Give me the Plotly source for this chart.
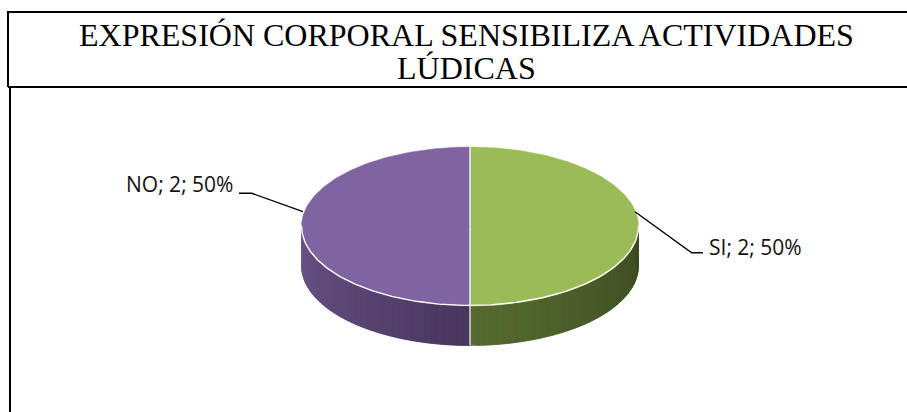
import numpy as np
import plotly.graph_objects as go

# ---- data ----
labels = ["SI", "NO"]
values = [2, 2]
title_lines = ["EXPRESIÓN CORPORAL SENSIBILIZA ACTIVIDADES", "LÚDICAS"]

# ---- style ----
top_colors = ["#9BBB59", "#8064A2"]
side_start = ["#566B2F", "#6C5589"]   # colour at left end of the visible wall
side_end = ["#3C4A22", "#49365F"]     # colour at right end of the visible wall

W, H = 907, 412
CX, CY, RX, RY, DEPTH = 470, 226.5, 168.5, 79.5, 39.5


def hex2rgb(h):
    h = h.lstrip("#")
    return np.array([int(h[i:i + 2], 16) for i in (0, 2, 4)], float)


def mix(c1, c2, t):
    c = hex2rgb(c1) * (1 - t) + hex2rgb(c2) * t
    return "rgb(%d,%d,%d)" % tuple(np.round(c).astype(int))


def ex(th):
    return CX + RX * np.cos(np.radians(th))


def ey(th, dz=0.0):
    return CY - RY * np.sin(np.radians(th)) + dz


fig = go.Figure()

total = float(sum(values))
a0 = 90.0
slices = []
for i, v in enumerate(values):
    a1 = a0 - 360.0 * v / total
    slices.append((a1, a0))
    a0 = a1

# side walls (front half only: angles in [-180, 0] modulo 360)
for i, (lo, hi) in enumerate(slices):
    for k in (-1, 0, 1):
        vlo = max(lo, -180 + 360 * k)
        vhi = min(hi, 0 + 360 * k)
        if vhi <= vlo:
            continue
        n = 40
        ts = np.linspace(vlo, vhi, n + 1)
        for j in range(n):
            t1, t2 = ts[j], ts[min(j + 2, n)]
            seg = np.linspace(t1, t2, 5)
            xs = list(ex(seg)) + list(ex(seg[::-1]))
            ys = list(ey(seg)) + list(ey(seg[::-1], DEPTH))
            frac = j / (n - 1)
            col = mix(side_start[i], side_end[i], frac)
            fig.add_trace(go.Scatter(x=xs + [xs[0]], y=ys + [ys[0]], mode="lines",
                                     fill="toself", fillcolor=col,
                                     line=dict(color=col, width=0.5),
                                     hoverinfo="skip", showlegend=False))

# top faces
for i, (lo, hi) in enumerate(slices):
    th = np.linspace(hi, lo, 200)
    xs = [CX] + list(ex(th)) + [CX]
    ys = [CY] + list(ey(th)) + [CY]
    fig.add_trace(go.Scatter(x=xs, y=ys, mode="lines", fill="toself",
                             fillcolor=top_colors[i],
                             line=dict(color=top_colors[i], width=0.5),
                             hoverinfo="skip", showlegend=False))

# white rim on front edge of top face
th = np.linspace(-180, 0, 200)
fig.add_trace(go.Scatter(x=ex(th), y=ey(th) - 0.6, mode="lines",
                         line=dict(color="white", width=1.4),
                         hoverinfo="skip", showlegend=False))

# white separators between slices
for lo, hi in slices:
    b = hi
    fig.add_trace(go.Scatter(x=[CX, ex(b)], y=[CY, ey(b)], mode="lines",
                             line=dict(color="white", width=1.4),
                             hoverinfo="skip", showlegend=False))
    bm = ((b + 180) % 360) - 180
    if -180 < bm < 0:
        fig.add_trace(go.Scatter(x=[ex(bm), ex(bm)], y=[ey(bm), ey(bm, DEPTH)],
                                 mode="lines", line=dict(color="white", width=1.2),
                                 hoverinfo="skip", showlegend=False))

# leader lines and labels
label_text = ["%s; %d; %d%%" % (l, v, round(100 * v / total)) for l, v in zip(labels, values)]
leaders = {
    "SI": dict(x=[635, 691.7, 703], y=[211.7, 252.7, 252.7], tx=707, ty=247, anchor="left"),
    "NO": dict(x=[303, 251.7, 239], y=[211.7, 193.3, 193.3], tx=235, ty=184, anchor="right"),
}
for lab, txt in zip(labels, label_text):
    L = leaders[lab]
    fig.add_trace(go.Scatter(x=L["x"], y=L["y"], mode="lines",
                             line=dict(color="black", width=1.4),
                             hoverinfo="skip", showlegend=False))
    fig.add_annotation(x=L["tx"], y=L["ty"], xref="x", yref="y", text=txt,
                       showarrow=False, xanchor=L["anchor"], yanchor="middle",
                       font=dict(family="Open Sans, Liberation Sans, sans-serif",
                                 size=21, color="#111111"))

# title
for txt, yy in zip(title_lines, [34.5, 67.8]):
    fig.add_annotation(x=466, y=yy, xref="x", yref="y", text=txt, showarrow=False,
                       xanchor="center", yanchor="middle",
                       font=dict(family="Liberation Serif, Times New Roman, serif",
                                 size=32, color="black"))

# frame lines
frame = [
    (8, 12, 907, 12), (8, 11, 8, 87), (8, 87, 907, 87), (10, 87, 10, 412),
]
for x0, y0, x1, y1 in frame:
    fig.add_shape(type="line", x0=x0, y0=y0, x1=x1, y1=y1, xref="x", yref="y",
                  line=dict(color="black", width=2))

fig.update_xaxes(range=[0, W], visible=False, fixedrange=True)
fig.update_yaxes(range=[H, 0], visible=False, fixedrange=True)
fig.update_layout(width=W, height=H, autosize=False,
                  margin=dict(l=0, r=0, t=0, b=0),
                  paper_bgcolor="white", plot_bgcolor="white")

fig.write_html("out.html", config={"displayModeBar": False},
               post_script="document.body.style.margin='0';")
